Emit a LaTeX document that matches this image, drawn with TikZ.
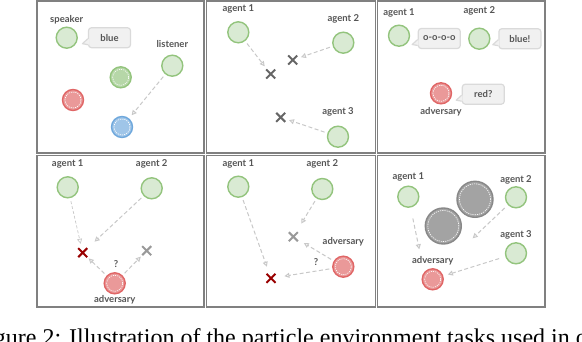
\documentclass[tikz,border=0pt]{standalone}
\usepackage{fontspec}
\setmainfont{Liberation Serif}
\newfontfamily\labelfont{Lato}
\usepackage{tikz}
\usetikzlibrary{arrows.meta, positioning, shapes.misc}
\definecolor{myframe}{RGB}{128,128,128}
\definecolor{mytext}{RGB}{85,85,85}
\definecolor{agentgreen}{RGB}{147,196,125}
\definecolor{agentfill}{RGB}{217,234,211}
\definecolor{lmkgreen}{RGB}{182,215,168}
\definecolor{advred}{RGB}{224,102,102}
\definecolor{advfill}{RGB}{234,153,153}
\definecolor{goalblue}{RGB}{111,168,220}
\definecolor{goalfill}{RGB}{159,197,232}
\definecolor{obsgray}{RGB}{136,136,136}
\definecolor{obsfill}{RGB}{163,163,163}
\definecolor{bubfill}{RGB}{241,241,241}
\definecolor{bubline}{RGB}{218,218,218}
\definecolor{arrowgray}{RGB}{200,200,200}
\definecolor{crossgray}{RGB}{102,102,102}
\definecolor{crosslight}{RGB}{153,153,153}
\definecolor{crossred}{RGB}{153,0,0}
\tikzset{
  frame/.style={draw=myframe, line width=1.6pt},
  agent/.style={circle, draw=agentgreen, fill=agentfill, minimum size=21pt, inner sep=0pt, line width=1.4pt},
  ring/.style={path picture={\draw[white, line width=0.6pt, dash pattern=on 1.2pt off 1pt]
    (path picture bounding box.center) circle (#1);}},
  lmk/.style={agent, fill=lmkgreen, ring=8pt},
  redball/.style={agent, draw=advred, fill=advfill, ring=8pt},
  blueball/.style={agent, draw=goalblue, fill=goalfill, ring=8pt},
  obstacle/.style={agent, draw=obsgray, fill=obsfill, minimum size=36pt, ring=15.5pt},
  goal/.style={cross out, draw=crossgray, line width=2pt, minimum size=7pt, inner sep=0pt},
  lbl/.style={font=\labelfont\bfseries\fontsize{9.5}{11}\selectfont, text=mytext, inner sep=0pt,
    text height=7pt, text depth=2pt},
  bubble/.style={rectangle, rounded corners=3pt, draw=bubline, fill=bubfill, line width=1.2pt,
    minimum width=42pt, minimum height=20pt, inner sep=2pt, font=\labelfont\bfseries\fontsize{9.5}{11}\selectfont, text=mytext},
  arrow/.style={-{Triangle[open, length=5pt, width=5pt]}, draw=arrowgray, line width=1pt,
    dash pattern=on 4pt off 2.5pt, shorten <=3pt, shorten >=4pt},
  thinarrow/.style={arrow, line width=0.7pt, dash pattern=on 3pt off 2pt},
  caption/.style={font=\fontsize{24}{28}\selectfont, inner sep=0pt}
}
\newcommand{\bubtail}[1]{%
  \fill[bubfill] ([xshift=1pt,yshift=-1pt]#1.west) -- ([xshift=-5.5pt,yshift=-6pt]#1.west)
    -- ([xshift=1pt,yshift=-7pt]#1.west) -- cycle;
  \draw[bubline, line width=1.2pt, line join=round] ([yshift=-1pt]#1.west)
    -- ([xshift=-5.5pt,yshift=-6pt]#1.west) -- ([yshift=-7pt]#1.west);}

\begin{document}
\begin{tikzpicture}[x=1pt, y=-1pt]
\clip[use as bounding box] (0,0) rectangle (582,342);

% Frames
\foreach \xa/\xb in {37/204, 206.5/375.5, 377.5/545}
  \foreach \ya/\yb in {1/153, 155.5/307}
    \draw[frame] (\xa,\ya) rectangle (\xb,\yb);

% Panel 1 — speaker and listener
\node[agent] (spk) at (66.7,37.7) {};
\node[lbl, above=2pt of spk] (spkL) {speaker};
\node[bubble, right=10pt of spk] (spkB) {blue};
\bubtail{spkB}
\node[agent] (lst) at (172.3,65.7) {};
\node[lbl, above=4.3pt of lst] (lstL) {listener};
\node[lmk] (lmG) at (120.7,77.3) {};
\node[redball] (lmR) at (73,100) {};
\node[blueball] (lmB) at (122,127) {};
\draw[arrow] (lst) -- (lmB);

% Panel 2 — three agents, three targets
\node[agent] (p2a1) at (238.3,32.3) {};
\node[lbl, above=7.3pt of p2a1] (p2l1) {agent 1};
\node[agent] (p2a2) at (343.3,42.7) {};
\node[lbl, above=8pt of p2a2] (p2l2) {agent 2};
\node[agent] (p2a3) at (338,136.7) {};
\node[lbl, above=9pt of p2a3] (p2l3) {agent 3};
\node[goal] (p2x1) at (270.7,74) {};
\node[goal] (p2x2) at (292.7,60) {};
\node[goal] (p2x3) at (280.7,117.3) {};
\draw[arrow] (p2a1) -- (p2x1);
\draw[arrow] (p2a2) -- (p2x2);
\draw[arrow] (p2a3) -- (p2x3);

% Panel 3 — talking agents and an adversary
\node[agent] (p3a1) at (399,35.7) {};
\node[lbl, above=6.7pt of p3a1] (p3l1) {agent 1};
\node[bubble, right=7.5pt of p3a1, yshift=-2.8pt] (p3b1) {o-o-o-o};
\bubtail{p3b1}
\node[agent] (p3a2) at (479.3,38.7) {};
\node[lbl, above=11.7pt of p3a2] (p3l2) {agent 2};
\node[bubble, right=7.8pt of p3a2] (p3b2) {blue!};
\bubtail{p3b2}
\node[redball] (p3adv) at (441,93.3) {};
\node[lbl, below=3pt of p3adv] (p3l3) {adversary};
\node[bubble, right=9.5pt of p3adv, yshift=-0.9pt] (p3b3) {red?};
\bubtail{p3b3}

% Panel 4 — agents cover the real target
\node[agent] (p4a1) at (67.7,187.3) {};
\node[lbl, above=7.6pt of p4a1] (p4l1) {agent 1};
\node[agent] (p4a2) at (151.7,188.3) {};
\node[lbl, above=8.6pt of p4a2] (p4l2) {agent 2};
\node[goal, draw=crossred] (p4x1) at (82.7,252.7) {};
\node[goal, draw=crosslight] (p4x2) at (146.7,250.7) {};
\node[redball] (p4adv) at (114.7,283.3) {};
\node[lbl, below=0.3pt of p4adv] (p4l3) {adversary};
\node[lbl, above=2.6pt of p4adv, xshift=1.3pt] (p4q) {?};
\draw[thinarrow, shorten >=4.5pt] (p4a1) -- (p4x1);
\draw[arrow, shorten >=10pt] (p4a2) -- (p4x1);
\draw[arrow, shorten >=2pt] (p4adv) -- (p4x1);
\draw[arrow, shorten >=2pt] (p4adv) -- (p4x2);

% Panel 5 — split targets
\node[agent] (p5a1) at (238.3,186.7) {};
\node[lbl, above=7pt of p5a1] (p5l1) {agent 1};
\node[agent] (p5a2) at (322.3,189) {};
\node[lbl, above=9.3pt of p5a2] (p5l2) {agent 2};
\node[goal, draw=crosslight] (p5x1) at (293.3,236.7) {};
\node[goal, draw=crossred] (p5x2) at (271,278.3) {};
\node[redball] (p5adv) at (343.3,266.7) {};
\node[lbl, above=9pt of p5adv] (p5l3) {adversary};
\node[lbl] (p5q) at (316,262.7) {?};
\draw[arrow, shorten >=7.5pt] (p5a1) -- (p5x2);
\draw[arrow, shorten >=10pt] (p5a2) -- (p5x1);
\draw[arrow, shorten >=7pt] (p5adv) -- (p5x1);
\draw[arrow, shorten >=9pt] (p5adv) -- (p5x2);

% Panel 6 — obstacles
\node[agent] (p6a1) at (408.3,196.7) {};
\node[lbl, above=3.7pt of p6a1] (p6l1) {agent 1};
\node[obstacle] (p6o1) at (475,199.3) {};
\node[obstacle] (p6o2) at (443.3,226) {};
\node[agent] (p6a2) at (516,197.3) {};
\node[lbl, above=1.6pt of p6a2] (p6l2) {agent 2};
\node[agent] (p6a3) at (516,253.3) {};
\node[lbl, above=2.3pt of p6a3] (p6l3) {agent 3};
\node[redball] (p6adv) at (432.7,279.3) {};
\node[lbl, above=2.6pt of p6adv] (p6l4) {adversary};
\coordinate (p6t1) at (419.3,249.3);
\coordinate (p6t2) at (472.7,238.3);
\draw[arrow, shorten <=11pt, shorten >=0pt] (p6a1) -- (p6t1);
\draw[arrow, shorten <=4.4pt, shorten >=0pt] (p6a2) -- (p6t2);
\draw[arrow, shorten <=6.5pt, shorten >=4.7pt] (p6a3) -- (p6adv);

% Caption
\node[caption, anchor=base west] (cap) at (-26.3,345)
  {Figure 2: Illustration of the particle environment tasks used in our};
\end{tikzpicture}
\end{document}
